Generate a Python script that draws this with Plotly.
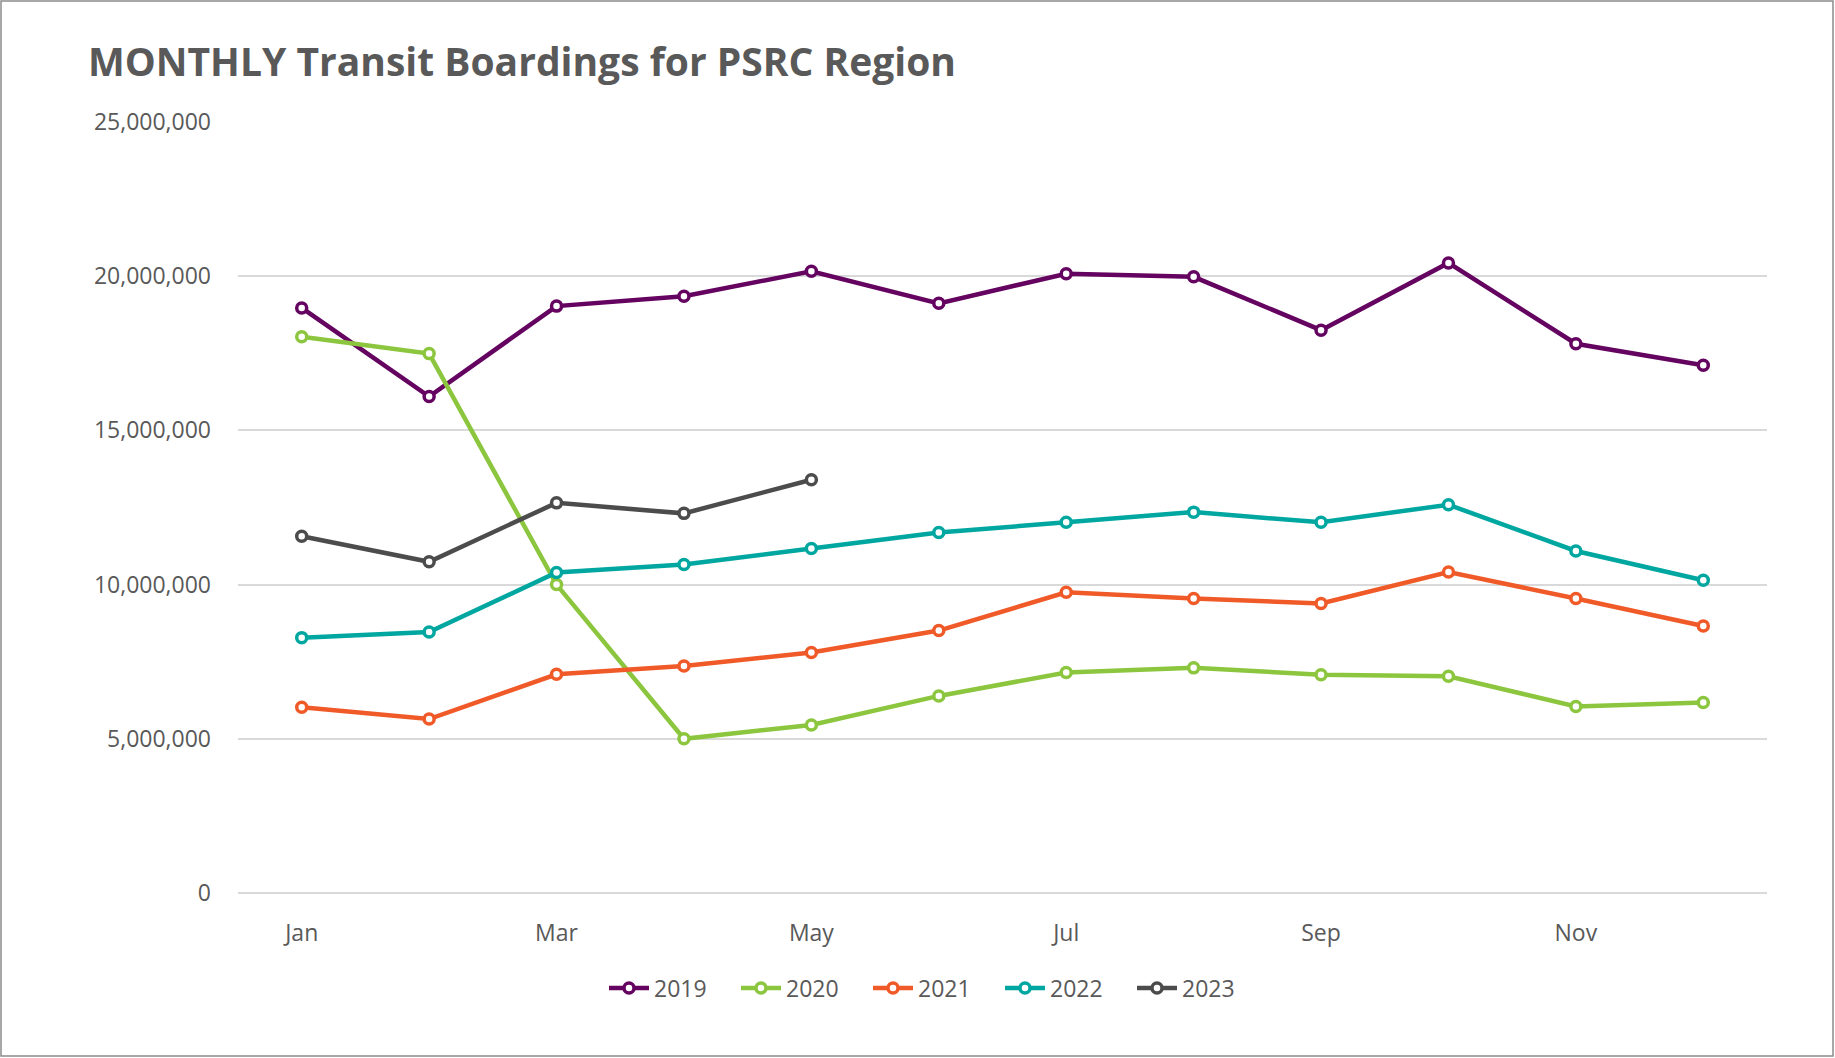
import plotly.graph_objects as go

months = ["Jan", "Feb", "Mar", "Apr", "May", "Jun", "Jul", "Aug", "Sep", "Oct", "Nov", "Dec"]
tick_months = ["Jan", "Mar", "May", "Jul", "Sep", "Nov"]

y2019 = [18970000, 16100000, 19030000, 19350000, 20160000, 19120000, 20080000, 19980000, 18250000, 20430000, 17810000, 17110000]
y2020 = [18040000, 17490000, 10000000, 5000000, 5450000, 6390000, 7150000, 7300000, 7080000, 7030000, 6050000, 6180000]
y2021 = [6020000, 5640000, 7090000, 7360000, 7800000, 8510000, 9750000, 9550000, 9390000, 10410000, 9550000, 8660000]
y2022 = [8280000, 8460000, 10390000, 10650000, 11170000, 11690000, 12020000, 12350000, 12020000, 12590000, 11090000, 10140000]
y2023 = [11570000, 10740000, 12650000, 12310000, 13400000]

series = [
    ("2019", y2019, "#650360"),
    ("2020", y2020, "#8CC63E"),
    ("2021", y2021, "#F05A28"),
    ("2022", y2022, "#00A7A0"),
    ("2023", y2023, "#4C4C4C"),
]

fig = go.Figure()
for name, vals, color in series:
    fig.add_trace(go.Scatter(
        x=months[:len(vals)], y=vals, name=name, mode="lines+markers",
        line=dict(color=color, width=4.5),
        marker=dict(symbol="circle", size=10, color="white",
                    line=dict(color=color, width=3.5)),
    ))

W, H = 1835, 1058
L, R, T, B = 238, 68, 122, 165
pw, ph = W - L - R, H - T - B

fig.update_layout(
    width=W, height=H,
    margin=dict(l=L, r=R, t=T, b=B),
    paper_bgcolor="white", plot_bgcolor="white",
    font=dict(family="Open Sans", color="#595959", size=23),
    title=dict(text="<b>MONTHLY Transit Boardings for PSRC Region</b>",
               x=88 / W, xanchor="left", y=1 - 62 / H, yanchor="middle",
               font=dict(family="Open Sans", size=39, color="#595959")),
    showlegend=True,
    legend=dict(orientation="h", x=(934 - L) / pw, xanchor="center",
                y=-(988 - T - ph) / ph, yanchor="middle",
                font=dict(size=23, color="#595959"),
                itemwidth=40, tracegroupgap=0, entrywidth=77),
    xaxis=dict(type="category", categoryorder="array", categoryarray=months,
               range=[-0.5, 11.5], tickvals=tick_months, ticktext=tick_months,
               showgrid=False, showline=False, zeroline=False, ticks="",
               ticklabelstandoff=24),
    yaxis=dict(range=[0, 25000000], tickvals=[0, 5000000, 10000000, 15000000, 20000000, 25000000],
               tickformat=",d", showgrid=True, gridcolor="#D9D9D9", gridwidth=1.5,
               zeroline=True, zerolinecolor="#D9D9D9", zerolinewidth=1.5,
               showline=False, ticks="", ticklabelstandoff=26),
)

fig.add_shape(type="rect", xref="paper", yref="paper",
              x0=-(L - 1) / pw, x1=(W - L - 2) / pw,
              y0=-(B - 2) / ph, y1=1 + (T - 1) / ph,
              line=dict(color="#8C8C8C", width=1.5), fillcolor="rgba(0,0,0,0)", layer="below")

fig.write_html("out.html", config={"displayModeBar": False},
               post_script="document.body.style.margin='0';")
